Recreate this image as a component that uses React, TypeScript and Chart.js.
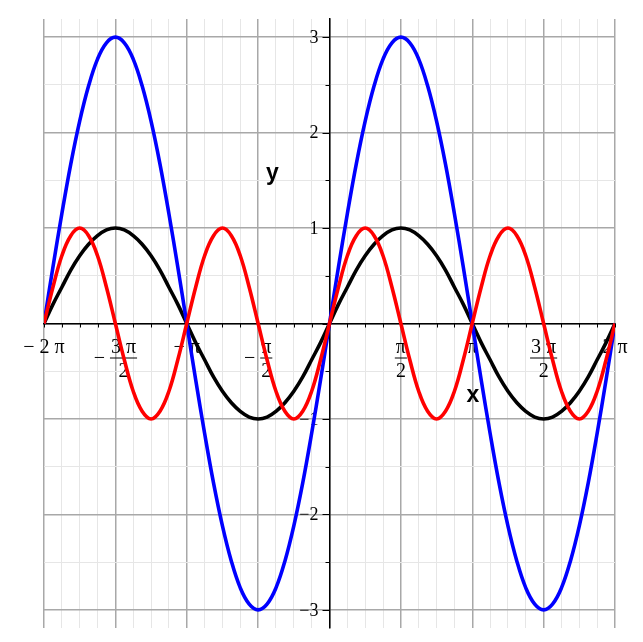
import { Chart, registerables } from 'chart.js';
import { useEffect, useRef } from 'react';

Chart.register(...registerables);

// x positions in units of pi, every pi/16 from -2pi to 2pi
const xs = [
    -2, -1.9375, -1.875, -1.8125, -1.75, -1.6875, -1.625, -1.5625,
    -1.5, -1.4375, -1.375, -1.3125, -1.25, -1.1875, -1.125, -1.0625,
    -1, -0.9375, -0.875, -0.8125, -0.75, -0.6875, -0.625, -0.5625,
    -0.5, -0.4375, -0.375, -0.3125, -0.25, -0.1875, -0.125, -0.0625,
    0, 0.0625, 0.125, 0.1875, 0.25, 0.3125, 0.375, 0.4375,
    0.5, 0.5625, 0.625, 0.6875, 0.75, 0.8125, 0.875, 0.9375,
    1, 1.0625, 1.125, 1.1875, 1.25, 1.3125, 1.375, 1.4375,
    1.5, 1.5625, 1.625, 1.6875, 1.75, 1.8125, 1.875, 1.9375,
    2,
];

// black curve
const blackY = [
    0, 0.2, 0.38, 0.56, 0.71, 0.83, 0.92, 0.98, 1, 0.98, 0.92, 0.83, 0.71, 0.56, 0.38, 0.2,
    0, -0.2, -0.38, -0.56, -0.71, -0.83, -0.92, -0.98, -1, -0.98, -0.92, -0.83, -0.71, -0.56, -0.38, -0.2,
    0, 0.2, 0.38, 0.56, 0.71, 0.83, 0.92, 0.98, 1, 0.98, 0.92, 0.83, 0.71, 0.56, 0.38, 0.2,
    0, -0.2, -0.38, -0.56, -0.71, -0.83, -0.92, -0.98, -1, -0.98, -0.92, -0.83, -0.71, -0.56, -0.38, -0.2,
    0,
];

// blue curve
const blueY = [
    0, 0.59, 1.15, 1.67, 2.12, 2.49, 2.77, 2.94, 3, 2.94, 2.77, 2.49, 2.12, 1.67, 1.15, 0.59,
    0, -0.59, -1.15, -1.67, -2.12, -2.49, -2.77, -2.94, -3, -2.94, -2.77, -2.49, -2.12, -1.67, -1.15, -0.59,
    0, 0.59, 1.15, 1.67, 2.12, 2.49, 2.77, 2.94, 3, 2.94, 2.77, 2.49, 2.12, 1.67, 1.15, 0.59,
    0, -0.59, -1.15, -1.67, -2.12, -2.49, -2.77, -2.94, -3, -2.94, -2.77, -2.49, -2.12, -1.67, -1.15, -0.59,
    0,
];

// red curve
const redY = [
    0, 0.38, 0.71, 0.92, 1, 0.92, 0.71, 0.38, 0, -0.38, -0.71, -0.92, -1, -0.92, -0.71, -0.38,
    0, 0.38, 0.71, 0.92, 1, 0.92, 0.71, 0.38, 0, -0.38, -0.71, -0.92, -1, -0.92, -0.71, -0.38,
    0, 0.38, 0.71, 0.92, 1, 0.92, 0.71, 0.38, 0, -0.38, -0.71, -0.92, -1, -0.92, -0.71, -0.38,
    0, 0.38, 0.71, 0.92, 1, 0.92, 0.71, 0.38, 0, -0.38, -0.71, -0.92, -1, -0.92, -0.71, -0.38,
    0,
];

// tick labels
const xLabelValues = [-2, -1.5, -1, -0.5, 0.5, 1, 1.5, 2];
const xLabels = ['−2 π', '−3 π/2', '−π', '−π/2', 'π/2', 'π', '3 π/2', '2 π'];
const yLabelValues = [-3, -2, -1, 1, 2, 3];
const yLabels = ['−3', '−2', '−1', '1', '2', '3'];

const xGridTicks = Array.from({ length: 33 }, (_, i) => -2 + i / 8);
const yGridTicks = Array.from({ length: 13 }, (_, i) => -3 + i / 2);

const SERIF = '20px "Liberation Serif", "Times New Roman", serif';

const axisLabels = {
    id: 'axisLabels',
    beforeDatasetsDraw(chart: Chart) {
        const { ctx, scales } = chart;
        const xs_ = scales.x;
        const ys_ = scales.y;
        const x0 = xs_.getPixelForValue(0);
        const y0 = ys_.getPixelForValue(0);
        ctx.save();
        ctx.strokeStyle = '#000';
        ctx.lineWidth = 1;

        // tick marks
        ctx.beginPath();
        xGridTicks.forEach((v) => {
            const px = Math.round(xs_.getPixelForValue(v)) + 0.5;
            ctx.moveTo(px, y0);
            ctx.lineTo(px, y0 + 4);
        });
        yGridTicks.forEach((v) => {
            const py = Math.round(ys_.getPixelForValue(v)) + 0.5;
            const len = Number.isInteger(v) ? 7 : 4;
            ctx.moveTo(x0, py);
            ctx.lineTo(x0 - len, py);
        });
        ctx.stroke();

        ctx.fillStyle = '#000';
        ctx.font = SERIF;
        ctx.textBaseline = 'alphabetic';

        // x labels
        xLabels.forEach((lab, i) => {
            const cx = xs_.getPixelForValue(xLabelValues[i]);
            const neg = lab.startsWith('−');
            const body = neg ? lab.slice(1) : lab;
            const [num, den] = body.split('/');
            if (!den) {
                const t = (neg ? '− ' : '') + num;
                ctx.textAlign = 'center';
                ctx.fillText(t, cx, y0 + 29);
                return;
            }
            const wn = ctx.measureText(num).width;
            const wd = ctx.measureText(den).width;
            const fw = Math.max(wn, wd) + 2;
            const mw = neg ? ctx.measureText('−').width + 5 : 0;
            const left = cx - (mw + fw) / 2;
            ctx.textAlign = 'left';
            if (neg) ctx.fillText('−', left, y0 + 40);
            const fc = left + mw + fw / 2;
            ctx.textAlign = 'center';
            ctx.fillText(num, fc, y0 + 29);
            ctx.fillText(den, fc, y0 + 53);
            ctx.beginPath();
            ctx.moveTo(left + mw, y0 + 34.5);
            ctx.lineTo(left + mw + fw, y0 + 34.5);
            ctx.stroke();
        });

        // y labels
        ctx.font = '18px "Liberation Serif", "Times New Roman", serif';
        ctx.textAlign = 'right';
        ctx.textBaseline = 'middle';
        yLabels.forEach((lab, i) => {
            ctx.fillText(lab, x0 - 11, ys_.getPixelForValue(yLabelValues[i]) + 1);
        });

        // axis titles
        ctx.font = 'bold 23px "Liberation Sans", Arial, sans-serif';
        ctx.textAlign = 'center';
        ctx.fillText('y', xs_.getPixelForValue(-0.4), ys_.getPixelForValue(1.57));
        ctx.fillText('x', xs_.getPixelForValue(1.005), ys_.getPixelForValue(-0.76));
        ctx.restore();
    },
};

const gridColor = (major: boolean) => (major ? '#a8a8a8' : '#e6e6e6');

const App = () => {
    const chartRef = useRef<HTMLCanvasElement | null>(null);
    const chartInstance = useRef<Chart<'line'> | null>(null);

    useEffect(() => {
        if (chartRef.current) {
            const ctx = chartRef.current.getContext('2d');
            if (ctx) {
                if (chartInstance.current) {
                    chartInstance.current.destroy();
                }
                const pts = (ys: number[]) => xs.map((x, i) => ({ x, y: ys[i] }));
                chartInstance.current = new Chart(ctx, {
                    type: 'line',
                    data: {
                        datasets: [
                            { label: 'red', data: pts(redY), borderColor: '#ff0000' },
                            { label: 'blue', data: pts(blueY), borderColor: '#0000ff' },
                            { label: 'black', data: pts(blackY), borderColor: '#000000' },
                        ],
                    },
                    options: {
                        animation: false,
                        responsive: true,
                        maintainAspectRatio: false,
                        layout: { padding: { left: 44, right: 28, top: 19, bottom: 14 } },
                        elements: {
                            point: { radius: 0 },
                            line: { borderWidth: 3.6, tension: 0.4 },
                        },
                        plugins: {
                            legend: { display: false },
                            tooltip: { enabled: false },
                        },
                        scales: {
                            x: {
                                type: 'linear',
                                position: { y: 0 },
                                min: -2,
                                max: 2,
                                afterBuildTicks: (scale) => {
                                    scale.ticks = xGridTicks.map((value) => ({ value }));
                                },
                                afterFit: (scale) => {
                                    scale.height = 0;
                                },
                                ticks: { display: false, autoSkip: false },
                                grid: {
                                    drawTicks: false,
                                    color: (c) => gridColor(Number.isInteger(c.tick.value * 2)),
                                    lineWidth: (c) => (Number.isInteger(c.tick.value * 2) ? 1.5 : 1),
                                },
                                border: { display: true, color: '#000', width: 1.5 },
                            },
                            y: {
                                type: 'linear',
                                position: { x: 0 },
                                min: -3.19,
                                max: 3.19,
                                afterBuildTicks: (scale) => {
                                    scale.ticks = yGridTicks.map((value) => ({ value }));
                                },
                                afterFit: (scale) => {
                                    scale.width = 0;
                                },
                                ticks: { display: false, autoSkip: false },
                                grid: {
                                    drawTicks: false,
                                    color: (c) => gridColor(Number.isInteger(c.tick.value)),
                                    lineWidth: (c) => (Number.isInteger(c.tick.value) ? 1.5 : 1),
                                },
                                border: { display: true, color: '#000', width: 1.5 },
                            },
                        },
                    },
                    plugins: [axisLabels],
                });
            }
        }
        return () => {
            if (chartInstance.current) {
                chartInstance.current.destroy();
                chartInstance.current = null;
            }
        };
    }, []);

    return (
        <div style={{ position: 'fixed', left: 0, top: 0, width: 643, height: 642, background: '#fff' }}>
            <canvas ref={chartRef} />
        </div>
    );
};

export default App;
